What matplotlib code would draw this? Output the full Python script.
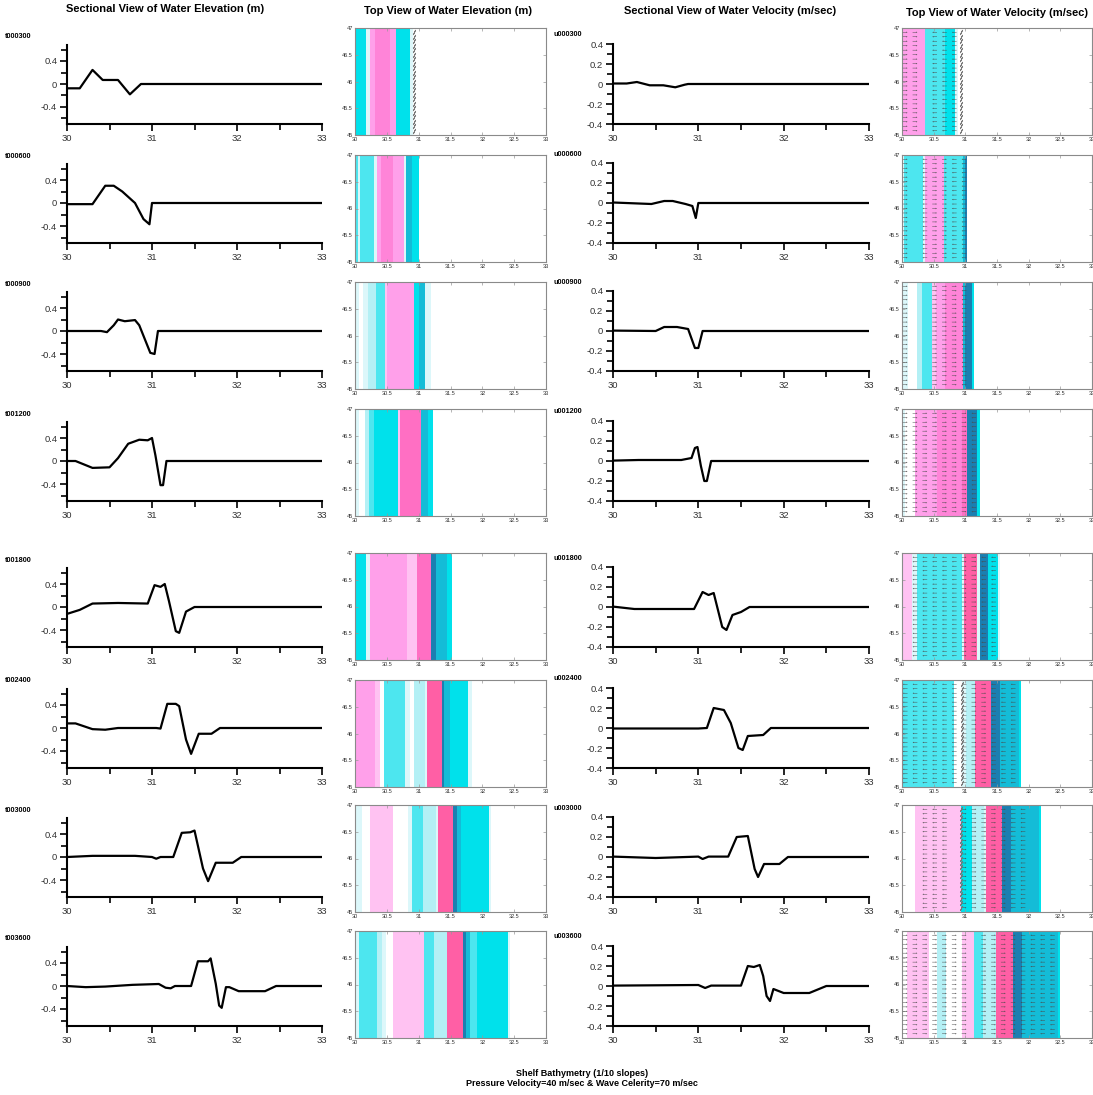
import numpy as np
import matplotlib
matplotlib.use("Agg")
import matplotlib.pyplot as plt
from matplotlib.colors import ListedColormap, BoundaryNorm
from matplotlib.ticker import MultipleLocator, FixedLocator, FuncFormatter

plt.rcParams['font.family'] = ['Liberation Sans', 'DejaVu Sans']
plt.rcParams['axes.unicode_minus'] = False

# ---------------- DATA ----------------
elev_labels = ["t000300", "t000600", "t000900", "t001200", "t001800", "t002400", "t003000", "t003600"]
vel_labels = ["u000300", "u000600", "u000900", "u001200", "u001800", "u002400", "u003000", "u003600"]

# Sectional water elevation profiles (m)
elev_x = [
    [30, 30.15, 30.3, 30.42, 30.6, 30.74, 30.87, 33],
    [30, 30.3, 30.45, 30.55, 30.65, 30.8, 30.9, 30.97, 31.0, 33],
    [30, 30.4, 30.47, 30.55, 30.6, 30.68, 30.8, 30.85, 30.98, 31.03, 31.07, 33],
    [30, 30.1, 30.3, 30.5, 30.6, 30.72, 30.85, 30.95, 31.0, 31.04, 31.1, 31.13, 31.17, 33],
    [30, 30.15, 30.3, 30.6, 30.95, 31.03, 31.1, 31.15, 31.2, 31.28, 31.32, 31.4, 31.5, 33],
    [30, 30.1, 30.3, 30.45, 30.6, 31.05, 31.1, 31.18, 31.28, 31.32, 31.4, 31.46, 31.55, 31.7, 31.8, 33],
    [30, 30.3, 30.8, 31.0, 31.05, 31.1, 31.25, 31.35, 31.45, 31.5, 31.6, 31.66, 31.75, 31.95, 32.05, 33],
    [30, 30.22, 30.45, 30.77, 31.08, 31.16, 31.22, 31.27, 31.46, 31.54, 31.66, 31.69, 31.75, 31.79, 31.82,
     31.87, 31.91, 32.02, 32.33, 32.46, 33],
]
elev_y = [
    [-0.075, -0.075, 0.245, 0.07, 0.07, -0.18, 0, 0],
    [-0.02, -0.02, 0.3, 0.3, 0.2, 0.0, -0.28, -0.37, 0, 0],
    [0, 0, -0.02, 0.1, 0.2, 0.17, 0.19, 0.1, -0.38, -0.4, 0, 0],
    [0, 0, -0.12, -0.11, 0.05, 0.3, 0.37, 0.36, 0.4, 0.1, -0.42, -0.42, 0, 0],
    [-0.12, -0.05, 0.06, 0.07, 0.06, 0.38, 0.35, 0.4, 0.1, -0.42, -0.45, -0.08, 0, 0],
    [0.08, 0.08, -0.02, -0.03, 0, 0, -0.01, 0.42, 0.42, 0.38, -0.2, -0.45, -0.1, -0.1, 0, 0],
    [0, 0.02, 0.02, 0, -0.03, 0, 0, 0.42, 0.43, 0.46, -0.2, -0.42, -0.1, -0.1, 0, 0],
    [0, -0.02, -0.01, 0.02, 0.035, -0.03, -0.04, 0, 0, 0.43, 0.43, 0.48, 0.04, -0.34, -0.38,
     -0.02, -0.02, -0.09, -0.09, 0, 0],
]

# Sectional water velocity profiles (m/sec)
vel_x = [
    [30, 30.16, 30.28, 30.43, 30.59, 30.73, 30.84, 30.88, 33],
    [30, 30.45, 30.6, 30.7, 30.85, 30.93, 30.97, 31.0, 33],
    [30, 30.5, 30.6, 30.75, 30.88, 30.96, 31.0, 31.05, 33],
    [30, 30.3, 30.8, 30.92, 30.96, 30.99, 31.03, 31.07, 31.1, 31.15, 33],
    [30, 30.25, 30.95, 31.05, 31.12, 31.18, 31.28, 31.33, 31.4, 31.5, 31.6, 33],
    [30, 31.0, 31.1, 31.18, 31.3, 31.38, 31.47, 31.52, 31.58, 31.76, 31.85, 33],
    [30, 30.5, 31.0, 31.05, 31.12, 31.35, 31.45, 31.58, 31.66, 31.7, 31.77, 31.95, 32.05, 33],
    [30, 31.0, 31.08, 31.15, 31.5, 31.58, 31.65, 31.72, 31.76, 31.8, 31.84, 31.88, 32.0, 32.3, 32.5, 33],
]
vel_y = [
    [0.005, 0.005, 0.02, -0.013, -0.013, -0.033, -0.007, 0, 0],
    [0.005, -0.01, 0.02, 0.02, -0.01, -0.03, -0.15, 0, 0],
    [0.004, 0, 0.04, 0.04, 0.02, -0.17, -0.17, 0, 0],
    [0.004, 0.01, 0.01, 0.03, 0.13, 0.14, -0.05, -0.2, -0.2, 0, 0],
    [0.004, -0.02, -0.02, 0.15, 0.12, 0.14, -0.2, -0.23, -0.08, -0.05, 0, 0],
    [-0.005, -0.005, 0, 0.2, 0.18, 0.05, -0.2, -0.22, -0.08, -0.07, 0, 0],
    [0.004, -0.01, 0.004, -0.02, 0.004, 0.004, 0.2, 0.21, -0.12, -0.2, -0.07, -0.07, 0, 0],
    [0.004, 0.01, -0.02, 0.004, 0.004, 0.2, 0.19, 0.21, 0.1, -0.1, -0.15, -0.03, -0.07, -0.07, 0, 0],
]

# Top-view colour bands (edges along x, colour class of each band)
elev_band_edges = [
    [30, 30.17, 30.23, 30.32, 30.55, 30.65, 30.87, 30.91, 33],
    [30, 30.04, 30.08, 30.30, 30.34, 30.41, 30.59, 30.77, 30.80, 30.90, 31.0, 33],
    [30, 30.07, 30.12, 30.2, 30.33, 30.47, 30.51, 30.93, 31.0, 31.1, 31.19, 33],
    [30, 30.07, 30.15, 30.22, 30.3, 30.67, 30.70, 31.03, 31.14, 31.22, 33],
    [30, 30.18, 30.23, 30.81, 30.97, 31.2, 31.28, 31.44, 31.52, 33],
    [30, 30.32, 30.40, 30.46, 30.79, 30.86, 30.93, 31.10, 31.13, 31.36, 31.40, 31.49, 31.78, 31.83, 33],
    [30, 30.11, 30.24, 30.60, 30.84, 30.89, 31.07, 31.28, 31.30, 31.54, 31.60, 31.66, 32.11, 32.14, 33],
    [30, 30.06, 30.34, 30.43, 30.48, 30.59, 31.08, 31.24, 31.45, 31.69, 31.75, 31.81, 31.92, 32.41, 32.44, 33],
]
elev_band_class = [
    ["C", "PC", "LP", "P", "LP", "C", "PC", "W"],
    ["MC", "PC", "MC", "PC", "LP", "P", "LP", "PC", "DC", "C", "W"],
    ["PC", "W", "PC", "LC", "MC", "PP", "LP", "C", "DC", "PC", "W"],
    ["PC", "W", "LC", "MC", "C", "PP", "MP", "DC", "C", "W"],
    ["C", "PC", "LP", "PP", "MP", "DB", "DC", "C", "W"],
    ["LP", "PP", "W", "MC", "PC", "W", "LC", "PC", "HP", "DB", "DC", "C", "PC", "W"],
    ["PC", "W", "PP", "W", "PC", "MC", "LC", "PC", "HP", "DB", "DC", "C", "PC", "W"],
    ["PC", "MC", "LC", "PC", "W", "PP", "MC", "LC", "HP", "DB", "DC", "MC", "C", "PC", "W"],
]
vel_band_edges = [
    [30, 30.37, 30.68, 30.84, 30.88, 33],
    [30, 30.03, 30.33, 30.36, 30.67, 30.96, 31.0, 31.02, 33],
    [30, 30.1, 30.24, 30.32, 30.48, 30.53, 30.68, 30.96, 31.0, 31.11, 31.13, 33],
    [30, 30.04, 30.21, 30.55, 30.95, 31.03, 31.19, 31.23, 33],
    [30, 30.16, 30.24, 30.94, 30.98, 31.18, 31.23, 31.36, 31.52, 31.55, 33],
    [30, 30.82, 30.94, 31.01, 31.15, 31.40, 31.54, 31.84, 31.88, 33],
    [30, 30.2, 30.93, 31.1, 31.3, 31.33, 31.58, 31.72, 32.16, 32.2, 33],
    [30, 30.08, 30.42, 30.55, 30.70, 30.94, 31.14, 31.28, 31.49, 31.76, 31.90, 32.47, 32.5, 33],
]
vel_band_class = [
    ["LP", "MC", "C", "PC", "W"],
    ["PC", "MC", "PC", "LP", "MC", "DC", "DB", "W"],
    ["PC", "W", "LC", "MC", "PP", "LP", "P", "DC", "DB", "C", "W"],
    ["PC", "W", "LP", "P", "MP", "DB", "C", "W"],
    ["PP", "PC", "MC", "PC", "HP", "PC", "DB", "C", "PC", "W"],
    ["MC", "W", "PC", "LC", "HP", "DB", "DC", "C", "W"],
    ["W", "PP", "C", "LC", "PC", "HP", "DB", "DC", "C", "W"],
    ["W", "PP", "W", "LC", "W", "PP", "MC", "LC", "HP", "DB", "DC", "C", "W"],
]
# positions of the tiny slanted vectors (one column per panel, empty if none)
elev_slash_x = [[30.93], [], [], [], [], [], [], []]
vel_slash_x = [[30.93], [], [], [], [], [30.95], [30.93], []]

# ---------------- STYLE / LAYOUT ----------------
class_names = ["W", "PC", "LC", "MC", "C", "DC", "DB", "PP", "LP", "P", "MP", "HP"]
class_colors = ["#ffffff", "#dcf7fa", "#b4f0f5", "#4de6ef", "#00e1eb", "#14bcd7", "#1b7fb1",
                "#ffc2f2", "#ffa0ea", "#ff84d8", "#ff6fc3", "#ff5fa5"]
cmap = ListedColormap(class_colors)
norm = BoundaryNorm(np.arange(-0.5, len(class_colors) + 0.5), len(class_colors))

W, H = 1093, 1095
fig = plt.figure(figsize=(W / 100, H / 100), dpi=100)


def px_axes(x0, x1, y0, y1):
    return fig.add_axes([x0 / W, 1 - y1 / H, (x1 - x0) / W, (y1 - y0) / H])


zero_px = [84, 203, 331, 461, 607, 728, 857, 986]
top_px = [28, 155, 282, 409, 553, 680, 805, 931]
PXU_E = 57.5
fmt = FuncFormatter(lambda v, p: f"{v:g}")

arrow_x = np.arange(30.05, 33.0, 0.155)
arrow_y = np.linspace(45.08, 46.92, 23)


def style_section(ax):
    for s in ("top", "right"):
        ax.spines[s].set_visible(False)
    for s in ("left", "bottom"):
        ax.spines[s].set_linewidth(1.5)
    ax.set_xlim(30, 33)
    ax.xaxis.set_major_locator(FixedLocator([30, 31, 32, 33]))
    ax.xaxis.set_minor_locator(FixedLocator([30.5, 31.5, 32.5]))
    ax.xaxis.set_major_formatter(fmt)
    ax.yaxis.set_major_formatter(fmt)
    ax.tick_params(which='major', direction='out', length=5, width=1.2, labelsize=6.8,
                   labelcolor='#333333', pad=2)
    ax.tick_params(which='minor', direction='out', length=4, width=1.2)


def style_top(ax):
    ax.set_xlim(30, 33)
    ax.set_ylim(45, 47)
    for s in ax.spines.values():
        s.set_linewidth(0.8)
        s.set_color('#8a8a8a')
    ax.xaxis.set_major_locator(MultipleLocator(0.5))
    ax.yaxis.set_major_locator(MultipleLocator(0.5))
    ax.xaxis.set_major_formatter(fmt)
    ax.yaxis.set_major_formatter(fmt)
    ax.tick_params(which='major', direction='in', length=2, width=0.5, color='#999999',
                   labelsize=4, labelcolor='#333333', pad=1.5, top=True, right=True)


def draw_bands(ax, edges, classes):
    idx = np.array([[class_names.index(c) for c in classes]])
    ax.pcolormesh(np.array(edges), np.array([45, 47]), idx, cmap=cmap, norm=norm,
                  shading='flat', zorder=1)


def draw_slashes(ax, xs):
    for xv in xs:
        ax.plot(np.full_like(arrow_y, xv), arrow_y, ls='none', marker=(2, 2, -25),
                ms=4, mew=0.6, color='#777777', zorder=3)


for i in range(8):
    z = zero_px[i]
    # --- sectional elevation
    ax = px_axes(67, 322, z - 0.68 * PXU_E, z + 0.70 * PXU_E)
    ax.plot(elev_x[i], elev_y[i], color='black', lw=1.6)
    ax.set_ylim(-0.70, 0.68)
    ax.yaxis.set_major_locator(FixedLocator([-0.4, 0, 0.4]))
    ax.yaxis.set_minor_locator(FixedLocator([-0.6, -0.2, 0.2, 0.6]))
    style_section(ax)
    fig.text(5 / W, 1 - (z - 47) / H, elev_labels[i], fontsize=5.2, fontweight='bold',
             ha='left', va='center')

    # --- sectional velocity
    ax = px_axes(613, 869, z - 40, z + 40)
    ax.plot(vel_x[i], vel_y[i], color='black', lw=1.6)
    ax.set_ylim(-0.4, 0.4)
    ax.yaxis.set_major_locator(FixedLocator([-0.4, -0.2, 0, 0.2, 0.4]))
    ax.yaxis.set_minor_locator(FixedLocator([-0.3, -0.1, 0.1, 0.3]))
    style_section(ax)
    fig.text(553 / W, 1 - (z - 49) / H, vel_labels[i], fontsize=5.2, fontweight='bold',
             ha='left', va='center')

    t = top_px[i]
    # --- top view elevation
    ax = px_axes(355, 546, t, t + 107)
    draw_bands(ax, elev_band_edges[i], elev_band_class[i])
    draw_slashes(ax, elev_slash_x[i])
    style_top(ax)

    # --- top view velocity with vectors
    ax = px_axes(902, 1092, t, t + 107)
    draw_bands(ax, vel_band_edges[i], vel_band_class[i])
    u_at = np.interp(arrow_x, vel_x[i], vel_y[i])
    keep = np.abs(u_at) > 0.003
    if keep.any():
        X, Y = np.meshgrid(arrow_x[keep], arrow_y)
        U = np.tile(np.sign(u_at[keep]) * 0.075, (len(arrow_y), 1))
        ax.quiver(X, Y, U, np.zeros_like(U), angles='xy', scale_units='xy', scale=1,
                  width=0.0025, headwidth=3, headlength=3, headaxislength=2.7,
                  color='#4a4a4a', zorder=3, pivot='middle')
    draw_slashes(ax, vel_slash_x[i])
    style_top(ax)

# titles
title_kw = dict(fontsize=8, fontweight='bold', ha='center', va='center')
fig.text(165 / W, 1 - 9 / H, "Sectional View of Water Elevation (m)", **title_kw)
fig.text(448 / W, 1 - 11 / H, "Top View of Water Elevation (m)", **title_kw)
fig.text(730 / W, 1 - 11 / H, "Sectional View of Water Velocity (m/sec)", **title_kw)
fig.text(997 / W, 1 - 13 / H, "Top View of Water Velocity (m/sec)", **title_kw)

fig.text(582 / W, 1 - 1073 / H, "Shelf Bathymetry (1/10 slopes)", fontsize=6.5,
         fontweight='bold', ha='center', va='center')
fig.text(582 / W, 1 - 1083 / H, "Pressure Velocity=40 m/sec & Wave Celerity=70 m/sec",
         fontsize=6.5, fontweight='bold', ha='center', va='center')

fig.savefig("out.png", dpi=100)
